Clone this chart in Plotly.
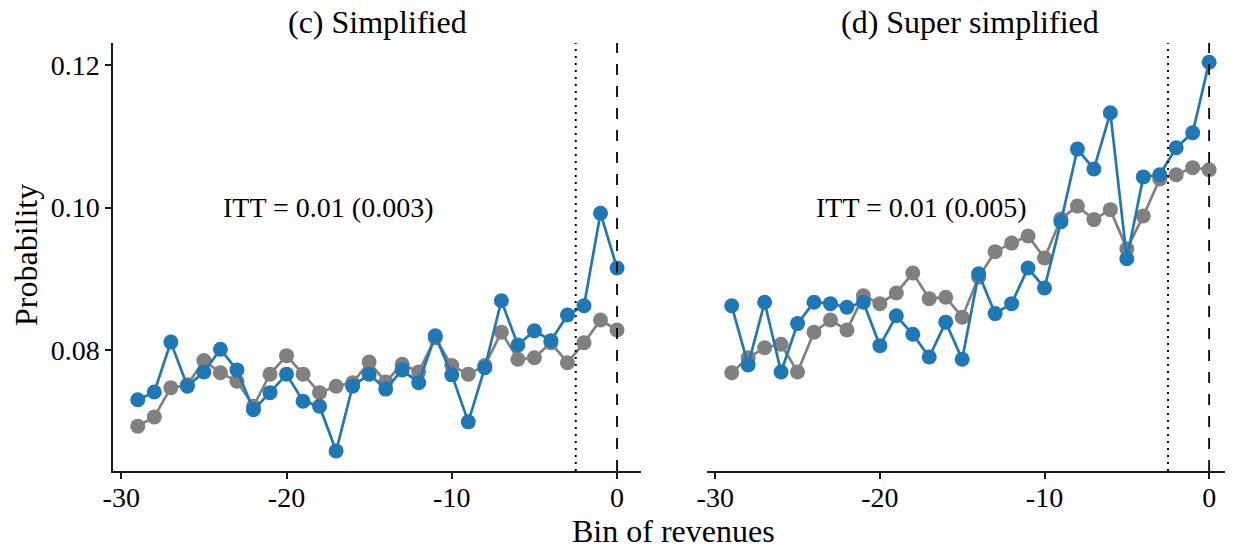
import plotly.graph_objects as go

bins = list(range(-29, 1))

simplified_blue = [0.0730, 0.0741, 0.0811, 0.0749, 0.0769, 0.0801, 0.0772, 0.0716, 0.0740, 0.0766,
                   0.0728, 0.0721, 0.0658, 0.0749, 0.0766, 0.0745, 0.0772, 0.0754, 0.0820, 0.0765,
                   0.0699, 0.0775, 0.0869, 0.0807, 0.0827, 0.0813, 0.0849, 0.0862, 0.0992, 0.0915]
simplified_gray = [0.0693, 0.0706, 0.0747, 0.0751, 0.0785, 0.0768, 0.0756, 0.0721, 0.0766, 0.0792,
                   0.0766, 0.0740, 0.0749, 0.0754, 0.0783, 0.0755, 0.0780, 0.0769, 0.0817, 0.0778,
                   0.0766, 0.0778, 0.0825, 0.0787, 0.0789, 0.0810, 0.0782, 0.0810, 0.0842, 0.0828]
super_blue = [0.0862, 0.0779, 0.0867, 0.0769, 0.0837, 0.0867, 0.0865, 0.0860, 0.0867, 0.0806,
              0.0848, 0.0822, 0.0790, 0.0839, 0.0787, 0.0907, 0.0851, 0.0865, 0.0915, 0.0887,
              0.0980, 0.1082, 0.1054, 0.1133, 0.0928, 0.1043, 0.1046, 0.1084, 0.1105, 0.1204]
super_gray = [0.0768, 0.0789, 0.0803, 0.0808, 0.0769, 0.0825, 0.0842, 0.0828, 0.0876, 0.0865,
              0.0880, 0.0908, 0.0872, 0.0874, 0.0846, 0.0902, 0.0938, 0.0950, 0.0960, 0.0929,
              0.0984, 0.1002, 0.0983, 0.0997, 0.0942, 0.0988, 0.1040, 0.1046, 0.1056, 0.1053]

panel_titles = ["(c) Simplified", "(d) Super simplified"]
itt_labels = ["ITT = 0.01 (0.003)", "ITT = 0.01 (0.005)"]
x_tickvals = [-30, -20, -10, 0]
x_ticktext = ["-30", "-20", "-10", "0"]
y_tickvals = [0.08, 0.10, 0.12]
y_ticktext = ["0.08", "0.10", "0.12"]
dotted_x = -2.5
dashed_x = 0
itt_pos = (-17.5, 0.100)

BLUE = "#1f77b4"
GRAY = "#808080"
FONT = "Liberation Serif"
AXC = "#1a1a1a"

# page body has an 8px margin; size the figure so it fills the window
W, H = 1225, 540

fig = go.Figure()

panels = [(simplified_gray, simplified_blue, "x", "y"), (super_gray, super_blue, "x2", "y2")]
for gray, blue, xa, ya in panels:
    for vals, col in [(gray, GRAY), (blue, BLUE)]:
        fig.add_trace(go.Scatter(
            x=bins, y=vals, mode="lines+markers", xaxis=xa, yaxis=ya,
            line=dict(color=col, width=2.7),
            marker=dict(color=col, size=15, line=dict(width=0)),
            showlegend=False, hoverinfo="skip"))

xr = [-30.5, 1.45]
yr = [0.0630, 0.1231]

dom1 = [105 / W, 633 / W]
dom2 = [699 / W, 1.0]

common_x = dict(range=xr, showgrid=False, zeroline=False, showline=True, linecolor=AXC, linewidth=1.5,
                ticks="outside", ticklen=6, tickwidth=1.5, tickcolor=AXC, automargin=False,
                tickvals=x_tickvals, ticktext=x_ticktext, ticklabelstandoff=-5,
                tickfont=dict(family=FONT, size=28, color="black"))
fig.update_layout(
    xaxis=dict(domain=dom1, anchor="y", **common_x),
    xaxis2=dict(domain=dom2, anchor="y2", **common_x),
    yaxis=dict(range=yr, showgrid=False, zeroline=False, showline=True, linecolor=AXC, linewidth=1.5,
               ticks="outside", ticklen=6, tickwidth=1.5, tickcolor=AXC, automargin=False,
               tickvals=y_tickvals, ticktext=y_ticktext,
               tickfont=dict(family=FONT, size=28, color="black"), anchor="x"),
    yaxis2=dict(range=yr, showgrid=False, zeroline=False, showline=False, showticklabels=False,
                ticks="", anchor="x2", automargin=False),
    width=W, height=H,
    margin=dict(l=0, r=0, t=35, b=77, autoexpand=False),
    plot_bgcolor="white", paper_bgcolor="white",
    font=dict(family=FONT, color="black"),
)

shapes = []
for xa, ya in [("x", "y"), ("x2", "y2")]:
    shapes.append(dict(type="line", xref=xa, yref=f"{ya} domain", x0=dotted_x, x1=dotted_x, y0=0, y1=1,
                       line=dict(color="black", width=2, dash="2px,5px")))
    shapes.append(dict(type="line", xref=xa, yref=f"{ya} domain", x0=dashed_x, x1=dashed_x, y0=0, y1=1,
                       line=dict(color="black", width=1.8, dash="11px,11px")))
fig.update_layout(shapes=shapes)

annotations = []
centers = [sum(dom1) / 2, sum(dom2) / 2]
for i, (xa, ya) in enumerate([("x", "y"), ("x2", "y2")]):
    annotations.append(dict(text=panel_titles[i], xref="paper", yref="paper", x=centers[i], y=1,
                            yshift=21, yanchor="middle", xanchor="center", showarrow=False,
                            borderpad=0, font=dict(family=FONT, size=32, color="black")))
    annotations.append(dict(text=itt_labels[i], xref=xa, yref=ya, x=itt_pos[0], y=itt_pos[1],
                            xanchor="center", yanchor="middle", showarrow=False,
                            font=dict(family=FONT, size=28, color="black")))
annotations.append(dict(text="Bin of revenues", xref="paper", yref="paper", x=665 / W, y=-60 / 428,
                        xanchor="center", yanchor="middle", showarrow=False,
                        font=dict(family=FONT, size=32, color="black")))
annotations.append(dict(text="Probability", xref="paper", yref="paper", x=18 / W, y=(471 - 255) / 428,
                        xanchor="center", yanchor="middle", textangle=-90, showarrow=False,
                        font=dict(family=FONT, size=32, color="black")))
fig.update_layout(annotations=annotations)

fig.write_html("out.html")
